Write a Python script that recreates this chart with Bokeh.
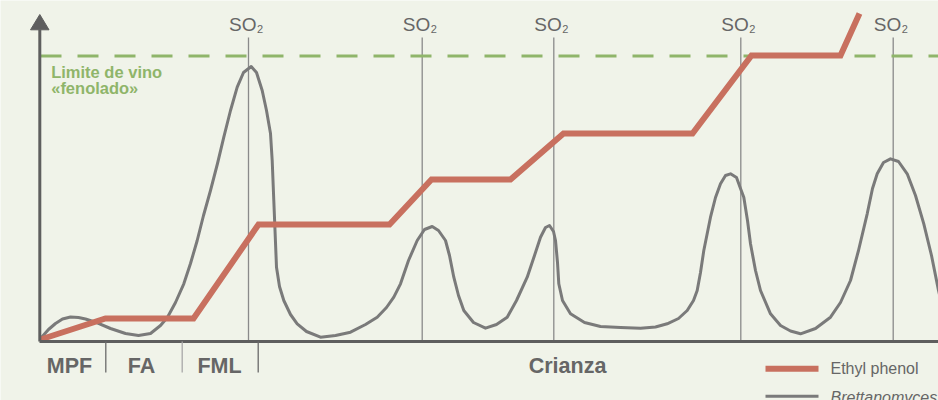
from bokeh.plotting import figure
from bokeh.models import Range1d
from bokeh.embed import file_html
from bokeh.resources import INLINE
from bokeh.core.properties import value

# ---- data (arbitrary units: x = time, y = level) ----
ethyl_x = [0, 65, 153, 218, 349, 391, 470, 523, 652, 711, 800, 819]
ethyl_y = [2, 23, 23, 117, 117, 162, 162, 208, 208, 286, 286, 328]

brett_x = [0, 8, 15, 22, 30, 38, 45, 55, 70, 85, 98, 110, 120, 127, 135, 143.3, 150, 156.7, 163, 170,
           177, 183.3, 190, 196.7, 203, 210.7, 216, 221.7, 226, 230, 231.7, 233.3, 236, 239, 243.3,
           250, 256.7, 266, 280, 295, 310, 325, 336.7, 346, 353.3, 360, 368, 376.7, 384,
           391.7, 398, 405, 409, 413.3, 418, 423.3, 433, 445, 456, 466.7, 476, 486.7, 494,
           500, 505, 509, 513, 515, 517, 518.3, 522, 530, 544, 560, 580, 600, 615, 626.7,
           638, 646.7, 653, 656.7, 660, 663.3, 670, 675, 680, 685, 690, 696, 700, 703.3,
           707, 710, 715, 720, 730, 740, 750, 760, 775, 790, 800, 810, 818, 826.7, 832,
           836.7, 843, 850, 858, 866.7, 875, 883.3, 891, 898, 905]
brett_y = [3, 12, 18, 22.5, 24.5, 24, 22.5, 19.3, 13, 8, 6, 8, 16, 24.3, 39, 57.7, 78, 101, 126, 151,
           178, 204.3, 231, 254.3, 269, 275, 269, 251, 231, 208, 181, 141, 74.3, 55, 41,
           27, 17.7, 10, 4.3, 6, 9.3, 17, 24.3, 34, 44.3, 57.7, 81, 101, 112,
           115, 111, 101, 86, 64.3, 46, 31, 19, 13.3, 17, 24.3, 41, 64.3, 86,
           104.3, 114, 116, 110, 101, 79, 57.7, 41, 27.7, 19, 15, 14, 13.3, 14.5, 17.7,
           23, 31, 41, 51, 69, 91, 124.3, 144, 157.7, 166, 167.7, 164, 153, 144.3,
           121, 97.7, 71, 51, 27.7, 16, 10.5, 7.7, 13, 24.3, 39, 61, 91, 127.7, 153,
           167.7, 179, 182.7, 180, 167.7, 146, 117.7, 86, 51, 23]

so2_x = [208, 381.7, 513.3, 700.3, 852.7]
limit_y = 285.5
phase_sep_x = [65.3, 141.7, 217.7]
phase_labels = ["MPF", "FA", "FML", "Crianza"]
phase_label_x = [29, 101, 179, 527]
limit_label = ["Limite de vino", "«fenolado»"]
series_names = ["Ethyl phenol", "Brettanomyces"]

BG = "#f0f3e9"
RED = "#c8705f"
GRAY = "#7a7a7a"
DARK = "#5e5e5e"
TXT = "#666666"
GREEN = "#8fb56a"
FONT = value("Liberation Sans")

p = figure(width=938, height=400, x_range=Range1d(-40, 898), y_range=Range1d(-59, 341),
           x_axis_type=None, y_axis_type=None, toolbar_location=None,
           output_backend="svg", min_border=0)
p.grid.visible = False
p.outline_line_color = None
p.background_fill_color = BG
p.border_fill_color = BG

# SO2 vertical lines
p.segment(x0=so2_x, y0=[0] * len(so2_x), x1=so2_x, y1=[304] * len(so2_x),
          line_color="#8a8a8a", line_width=1.3)

# limit dashed line
p.line(x=[0, 898], y=[limit_y, limit_y], line_color=GREEN, line_width=3, line_dash="21 16")

# Brettanomyces curve
p.line(x=brett_x, y=brett_y, line_color=GRAY, line_width=3, line_join="round")

# Ethyl phenol
p.line(x=ethyl_x, y=ethyl_y, line_color=RED, line_width=6, line_join="miter")

# axes
p.line(x=[-1, 898], y=[0, 0], line_color=DARK, line_width=3)
p.line(x=[-0.7, -0.7], y=[0, 312], line_color=DARK, line_width=3)
p.patch(x=[-10, 8.5, -0.7], y=[311.7, 311.7, 327], fill_color=DARK, line_color=DARK)

# phase separators
p.segment(x0=phase_sep_x, y0=[0] * 3, x1=phase_sep_x, y1=[-31] * 3,
          line_color=["#6a6a6a", "#a8a8a8", "#6a6a6a"], line_width=1.3)

# phase labels
p.text(x=phase_label_x, y=[-24] * 4, text=phase_labels, text_align="center",
       text_baseline="middle", text_font=FONT, text_font_size="21.5px",
       text_font_style="bold", text_color=TXT)

# SO2 labels
p.text(x=[x + 8 for x in so2_x], y=[317.5] * len(so2_x), text=["SO"] * len(so2_x),
       text_align="right", text_baseline="middle", text_font=FONT,
       text_font_size="19px", text_color=TXT)
p.text(x=[x + 8.5 for x in so2_x], y=[312.8] * len(so2_x), text=["2"] * len(so2_x),
       text_align="left", text_baseline="middle", text_font=FONT,
       text_font_size="11px", text_color=TXT)

# limit label
p.text(x=[10.7, 10.7], y=[269.8, 253.2], text=limit_label, text_align="left",
       text_baseline="middle", text_font=FONT, text_font_size="16.5px",
       text_font_style="bold", text_color=GREEN)

# legend
p.line(x=[725, 778], y=[-27.3, -27.3], line_color=RED, line_width=6)
p.line(x=[725, 778], y=[-54.7, -54.7], line_color=GRAY, line_width=3)
p.text(x=[790], y=[-27.3], text=[series_names[0]], text_align="left", text_baseline="middle",
       text_font=FONT, text_font_size="16px", text_color=TXT)
p.text(x=[790], y=[-55.5], text=[series_names[1]], text_align="left", text_baseline="middle",
       text_font=FONT, text_font_size="16px", text_font_style="italic", text_color=TXT)

html = file_html(p, INLINE)
html = html.replace("<body>", '<body style="margin:0;background-color:%s;">' % BG, 1)
open("out.html", "w").write(html)
